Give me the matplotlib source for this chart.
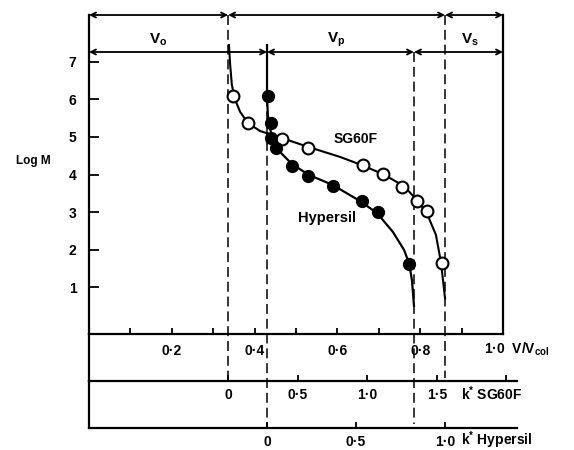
import matplotlib
matplotlib.use("Agg")
import matplotlib.pyplot as plt
from matplotlib.transforms import blended_transform_factory

plt.rcParams['font.family'] = ['Liberation Sans', 'DejaVu Sans']
plt.rcParams['font.weight'] = 'bold'
plt.rcParams['mathtext.fontset'] = 'custom'
plt.rcParams['mathtext.rm'] = 'Liberation Sans:bold'
plt.rcParams['mathtext.it'] = 'Liberation Sans:bold'
plt.rcParams['mathtext.bf'] = 'Liberation Sans:bold'

# measured points (V/Vcol, log M)
sg_v = [0.348, 0.384, 0.466, 0.529, 0.662, 0.710, 0.756, 0.792, 0.816, 0.853]
sg_logm = [6.09, 5.37, 4.95, 4.71, 4.25, 4.01, 3.67, 3.29, 3.03, 1.64]
hy_v = [0.432, 0.440, 0.440, 0.452, 0.490, 0.529, 0.589, 0.659, 0.698, 0.773]
hy_logm = [6.09, 5.37, 4.97, 4.71, 4.23, 3.96, 3.69, 3.29, 3.00, 1.61]

# drawn calibration curves
sg_curve_v = [0.338, 0.341, 0.345, 0.353, 0.365, 0.384, 0.413, 0.466, 0.531,
              0.606, 0.659, 0.710, 0.761, 0.792, 0.816, 0.838, 0.850, 0.855, 0.860]
sg_curve_logm = [7.45, 6.92, 6.39, 5.99, 5.67, 5.37, 5.16, 4.97, 4.73,
                 4.47, 4.25, 4.01, 3.69, 3.32, 2.97, 2.39, 1.67, 1.19, 0.70]
hy_curve_v = [0.430, 0.430, 0.432, 0.437, 0.444, 0.457, 0.490, 0.531, 0.589,
              0.655, 0.696, 0.734, 0.761, 0.773, 0.780, 0.785]
hy_curve_logm = [7.45, 6.07, 5.59, 5.24, 4.92, 4.65, 4.28, 3.99, 3.72,
                 3.29, 2.97, 2.47, 1.99, 1.64, 1.19, 0.50]

# volumes
vo_sg, vt_sg = 0.336, 0.860
vo_hy, vt_hy = 0.430, 0.785

v_ticks = [0.1, 0.2, 0.3, 0.4, 0.5, 0.6, 0.7, 0.8, 0.9]
v_labels = ['', '0\u00b72', '', '0\u00b74', '', '0\u00b76', '', '0\u00b78', '']
logm_ticks = [1, 2, 3, 4, 5, 6, 7]
k_sg_ticks = [0, 0.5, 1.0, 1.5, 2.0]
k_sg_labels = ['0', '0\u00b75', '1\u00b70', '1\u00b75', '']
k_hy_ticks = [0, 0.5, 1.0]
k_hy_labels = ['0', '0\u00b75', '1\u00b70']

W, H = 574, 450
fig = plt.figure(figsize=(W / 100, H / 100), dpi=100)

ax = fig.add_axes([89 / W, 1 - 334 / H, 414 / W, 319 / H])
ax.set_xlim(0, 1)
ax.set_ylim(-0.25, 8.25)
ax.spines['top'].set_visible(False)
for s in ['left', 'right', 'bottom']:
    ax.spines[s].set_linewidth(1.6)
ax.set_xticks(v_ticks, v_labels)
ax.set_yticks(logm_ticks)
ax.tick_params(axis='both', direction='in', width=1.3, labelsize=10)
ax.tick_params(axis='x', length=4, pad=7)
ax.tick_params(axis='y', length=7, pad=9)
ax.text(0.955, -0.047, '1\u00b70  V/V$_{col}$', transform=ax.transAxes,
        ha='left', va='center', fontsize=10)
fig.text(33 / W, 1 - 161 / H, 'Log M', ha='center', va='center', fontsize=8.5)

# curves and points
ax.plot(sg_curve_v, sg_curve_logm, color='black', lw=1.5, clip_on=False)
ax.plot(hy_curve_v, hy_curve_logm, color='black', lw=1.6, clip_on=False)
ax.plot(sg_v, sg_logm, 'o', ms=8.5, mfc='white', mec='black', mew=1.5, zorder=4)
ax.plot(hy_v, hy_logm, 'o', ms=8.5, mfc='black', mec='black', zorder=4)
ax.text(0.645, 4.95, 'SG60F', fontsize=10, ha='center', va='center')
ax.text(0.575, 2.85, 'Hypersil', fontsize=10.5, ha='center', va='center')

# dashed boundaries, running down through the k' scales
tr = blended_transform_factory(ax.transData, fig.transFigure)
dash = dict(color='black', lw=1.1, ls=(0, (6.5, 3.2)), clip_on=False)
ax.plot([vo_sg, vo_sg], [1 - 15 / H, 1 - 381 / H], transform=tr, **dash)
ax.plot([vo_hy, vo_hy], [1 - 52 / H, 1 - 428 / H], transform=tr, **dash)
ax.plot([vt_hy, vt_hy], [1 - 52 / H, 1 - 424 / H], transform=tr, **dash)
ax.plot([vt_sg, vt_sg], [1 - 15 / H, 1 - 378 / H], transform=tr, **dash)

# volume arrows on top
ta = blended_transform_factory(ax.transData, ax.transAxes)
row1 = [0, vo_sg, vt_sg, 1.0]
row2 = [0, vo_hy, vt_hy, 1.0]
for row, y in [(row1, 1.0), (row2, 0.884)]:
    for a, b in zip(row[:-1], row[1:]):
        ax.annotate('', xy=(a, y), xytext=(b, y), xycoords=ta, textcoords=ta,
                    arrowprops=dict(arrowstyle='<->', lw=1.3, color='black',
                                    shrinkA=0, shrinkB=0, mutation_scale=9))
ax.text(vo_sg / 2, 0.922, '$V_o$', transform=ta, ha='center', va='center', fontsize=11)
ax.text((vo_sg + vt_sg) / 2, 0.922, '$V_p$', transform=ta, ha='center', va='center', fontsize=11)
ax.text((vt_sg + 1) / 2 - 0.01, 0.922, '$V_s$', transform=ta, ha='center', va='center', fontsize=11)

# k' scales
v_right = (517 - 89) / 414


def k_axis(y_px, vo, ticks, labels, name):
    kx = fig.add_axes([89 / W, 1 - y_px / H, 428 / W, 47 / H])
    kx.patch.set_visible(False)
    kx.spines['top'].set_visible(False)
    kx.spines['right'].set_visible(False)
    kx.spines['left'].set_linewidth(1.6)
    kx.spines['bottom'].set_linewidth(1.6)
    kx.set_xlim(-1, (v_right - vo) / vo)
    kx.set_yticks([])
    kx.set_xticks(ticks, labels)
    kx.tick_params(axis='x', direction='in', length=4, width=1.3, pad=5, labelsize=10)
    kx.text(0.87, -0.27, name, transform=kx.transAxes, ha='left', va='center', fontsize=10)
    return kx


k_axis(381, vo_sg, k_sg_ticks, k_sg_labels, 'k$^{*}$ SG60F')
k_axis(428, vo_hy, k_hy_ticks, k_hy_labels, 'k$^{*}$ Hypersil')

fig.savefig('out.png', dpi=100)
